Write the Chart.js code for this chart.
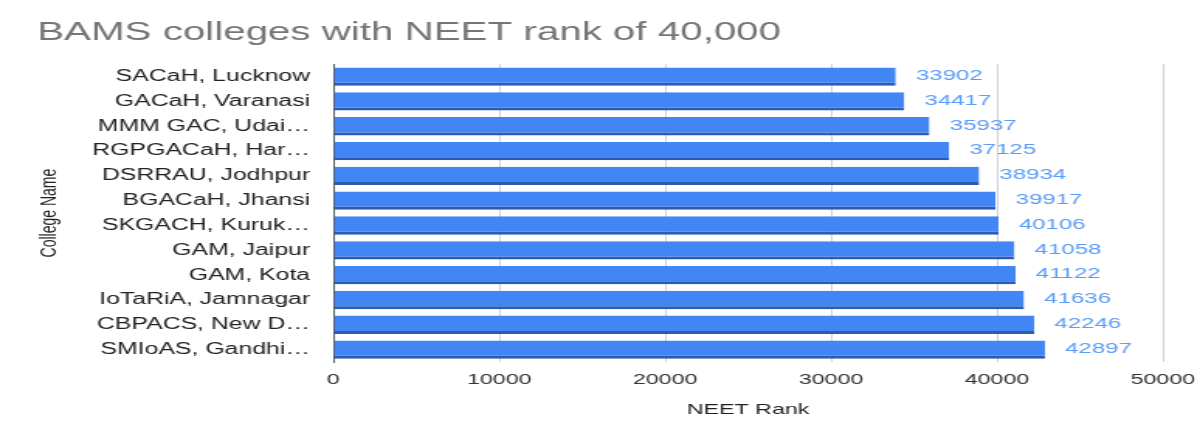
<!DOCTYPE html>
<html>
<head>
<meta charset="utf-8">
<script src="https://cdn.jsdelivr.net/npm/chart.js@4"></script>
<style>
  body { margin: 0; background: #fff; overflow: hidden; }
  #wrap { width: 774px; height: 442px; transform: scaleX(1.5504); transform-origin: 0 0; }
</style>
</head>
<body>
<div id="wrap"><canvas id="myChart" width="774" height="442"></canvas></div>
<script>
// datos del grafico
const colleges = [
  "SACaH, Lucknow", "GACaH, Varanasi", "MMM GAC, Udai…", "RGPGACaH, Har…",
  "DSRRAU, Jodhpur", "BGACaH, Jhansi", "SKGACH, Kuruk…", "GAM, Jaipur",
  "GAM, Kota", "IoTaRiA, Jamnagar", "CBPACS, New D…", "SMIoAS, Gandhi…"
];
const neetRank = [33902, 34417, 35937, 37125, 38934, 39917, 40106, 41058, 41122, 41636, 42246, 42897];
const xTicks = [0, 10000, 20000, 30000, 40000, 50000];

// etiquetas con el valor al final de cada barra
const valueLabels = {
  id: 'valueLabels',
  afterDatasetsDraw(chart) {
    const ctx = chart.ctx;
    const meta = chart.getDatasetMeta(0);
    ctx.save();
    ctx.font = '15.5px "Liberation Sans", Arial, sans-serif';
    ctx.fillStyle = '#5b9cf6';
    ctx.textBaseline = 'middle';
    meta.data.forEach((bar, i) => {
      ctx.fillText(String(neetRank[i]), bar.x + 13, bar.y - 1);
    });
    ctx.restore();
  }
};

const ctx = document.getElementById('myChart').getContext('2d');
const myChart = new Chart(ctx, {
  type: 'bar',
  data: {
    labels: colleges,
    datasets: [{
      data: neetRank,
      backgroundColor: '#4285f4',
      borderColor: '#2a5bb5',
      borderWidth: { bottom: 3, top: 0, left: 0, right: 0 },
      borderSkipped: false,
      barPercentage: 0.74,
      categoryPercentage: 1
    }]
  },
  options: {
    indexAxis: 'y',
    responsive: false,
    animation: false,
    layout: { padding: { left: 24, right: 24, top: 0, bottom: 0 } },
    plugins: {
      legend: { display: false },
      tooltip: { enabled: false },
      title: {
        display: true,
        text: 'BAMS colleges with NEET rank of 40,000',
        align: 'start',
        color: '#757575',
        font: { family: '"Liberation Sans", Arial, sans-serif', size: 26, weight: 'normal' },
        padding: { top: 17, bottom: 16 }
      }
    },
    scales: {
      x: {
        min: 0,
        max: 50000,
        afterBuildTicks: (scale) => { scale.ticks = xTicks.map(v => ({ value: v })); },
        afterFit: (scale) => { scale.height = 80; scale.paddingRight = 0; scale.paddingLeft = 0; },
        grid: { color: '#d0d0d0', drawTicks: false },
        border: { display: false },
        ticks: {
          color: '#333',
          padding: 9,
          maxRotation: 0,
          font: { family: '"Liberation Sans", Arial, sans-serif', size: 15 },
          callback: (v) => String(v)
        },
        title: {
          display: true,
          text: 'NEET Rank',
          color: '#222',
          font: { family: '"Liberation Sans", Arial, sans-serif', size: 15 },
          padding: { top: 0, bottom: 23 }
        }
      },
      y: {
        afterFit: (scale) => { scale.width = 191; },
        grid: { display: false, drawTicks: false },
        border: { display: true, color: '#555', width: 1 },
        ticks: {
          color: '#222',
          padding: 15,
          autoSkip: false,
          font: { family: '"Liberation Sans", Arial, sans-serif', size: 16 }
        },
        title: {
          display: true,
          text: 'College Name',
          color: '#222',
          font: { family: '"Liberation Sans", Arial, sans-serif', size: 14 },
          padding: { top: 0, bottom: 0 }
        }
      }
    }
  },
  plugins: [valueLabels]
});
</script>
</body>
</html>
